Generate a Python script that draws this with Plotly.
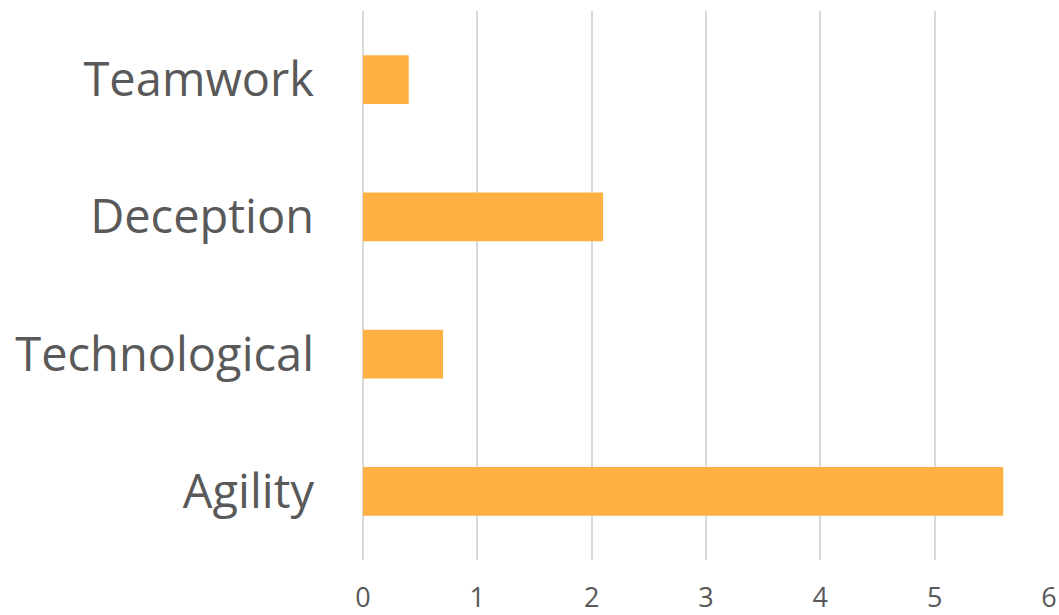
import plotly.graph_objects as go

# Skill categories (bottom to top) and their scores
categories = ["Agility", "Technological", "Deception", "Teamwork"]
scores = [5.6, 0.7, 2.1, 0.4]
tick_values = [0, 1, 2, 3, 4, 5, 6]

fig = go.Figure(
    go.Bar(
        x=scores,
        y=categories,
        orientation="h",
        marker=dict(color="#FFB043", line=dict(width=0)),
        width=0.355,
    )
)

font_family = "Open Sans, Noto Sans, sans-serif"

fig.update_layout(
    width=1059,
    height=615,
    margin=dict(l=363, r=10, t=11, b=55),
    paper_bgcolor="white",
    plot_bgcolor="white",
    showlegend=False,
    font=dict(family=font_family, color="#595959"),
)

fig.update_xaxes(
    range=[0, 6],
    tickvals=tick_values,
    ticktext=[str(v) for v in tick_values],
    tickfont=dict(size=27, color="#595959"),
    showgrid=True,
    gridcolor="#D9D9D9",
    gridwidth=2,
    zeroline=True,
    zerolinecolor="#D9D9D9",
    zerolinewidth=2,
    showline=False,
    ticks="",
    ticklabelstandoff=19,
    automargin=False,
    fixedrange=True,
)

fig.update_yaxes(
    categoryorder="array",
    categoryarray=categories,
    tickfont=dict(size=47, color="#595959"),
    showgrid=False,
    zeroline=False,
    showline=False,
    ticks="",
    ticklabelstandoff=48,
    automargin=False,
    fixedrange=True,
)

fig.write_html("out.html")
